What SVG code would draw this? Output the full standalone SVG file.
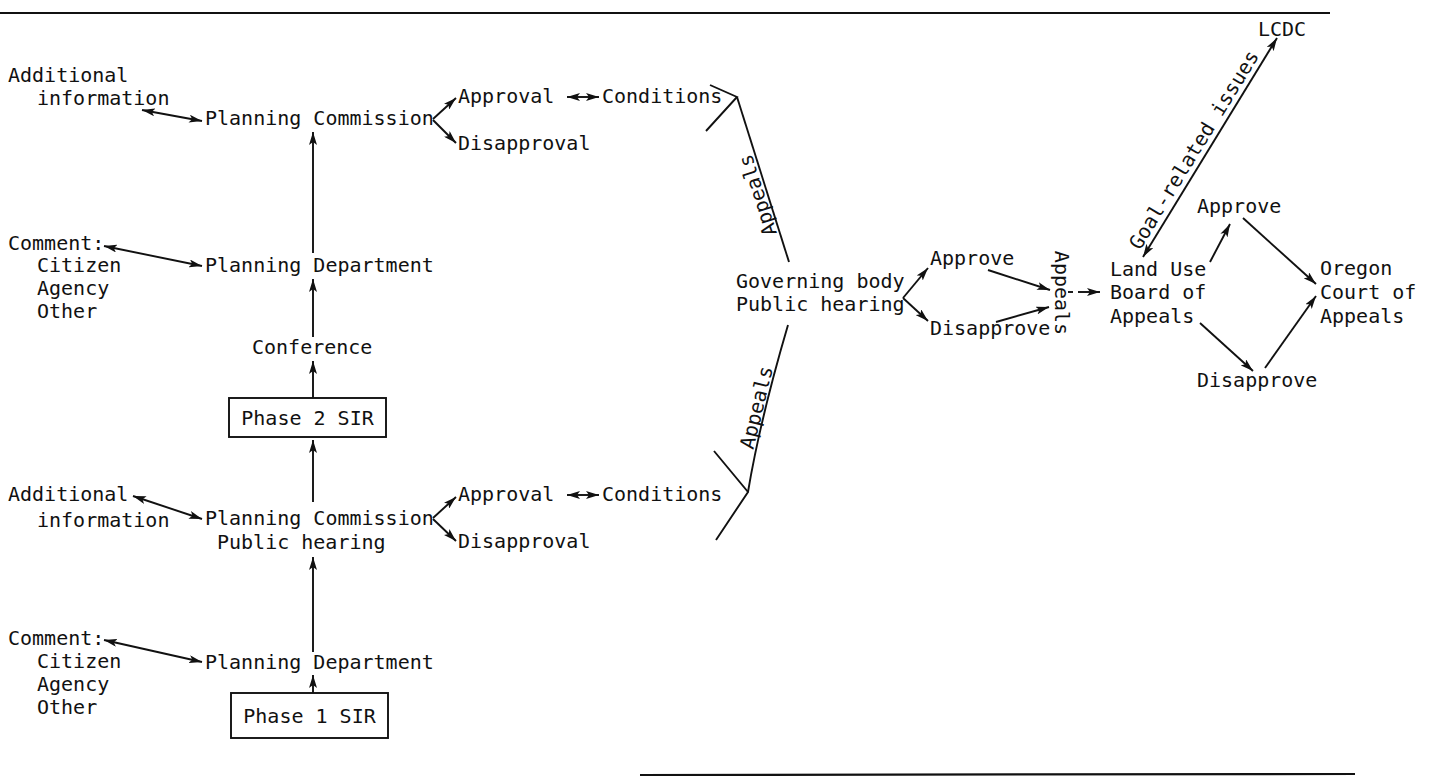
<svg xmlns="http://www.w3.org/2000/svg" width="1430" height="778" viewBox="0 0 1430 778">
<style>
text{font-family:"DejaVu Sans Mono","Liberation Mono",monospace;font-size:20px;fill:#111}
.c line,.c polyline,.c path{stroke:#111;stroke-width:1.9;fill:none}
.box{fill:none;stroke:#111;stroke-width:1.9}
.rule{stroke:#111;stroke-width:2.2}
</style>
<defs>
<marker id="ah" viewBox="0 0 13 8" refX="13" refY="4" markerWidth="13" markerHeight="8" markerUnits="userSpaceOnUse" orient="auto-start-reverse">
<path d="M0,0 L13,4 L0,8 L3,4 Z" fill="#111"/>
</marker>
</defs>
<line class="rule" x1="0" y1="13" x2="1330" y2="13"/>
<line class="rule" x1="640" y1="775" x2="1355" y2="774"/>

<g id="n_addinfo1"><text x="8" y="82">Additional</text><text x="37" y="105">information</text></g>
<g id="n_pc1"><text x="205" y="125">Planning Commission</text></g>
<g id="n_appr1"><text x="458" y="103">Approval</text></g>
<g id="n_disappr1"><text x="458" y="150">Disapproval</text></g>
<g id="n_cond1"><text x="602" y="103">Conditions</text></g>
<g id="n_comment1"><text x="8" y="250">Comment:</text><text x="37" y="272">Citizen</text><text x="37" y="295">Agency</text><text x="37" y="318">Other</text></g>
<g id="n_pd2"><text x="205" y="272">Planning Department</text></g>
<g id="n_conf"><text x="252" y="354">Conference</text></g>
<g id="n_phase2"><rect class="box" x="229" y="398" width="157" height="39"/><text x="307.5" y="425" text-anchor="middle">Phase 2 SIR</text></g>
<g id="n_addinfo2"><text x="8" y="501">Additional</text><text x="37" y="527">information</text></g>
<g id="n_pc2"><text x="205" y="525">Planning Commission</text><text x="217" y="549">Public hearing</text></g>
<g id="n_appr2"><text x="458" y="501">Approval</text></g>
<g id="n_disappr2"><text x="458" y="548">Disapproval</text></g>
<g id="n_cond2"><text x="602" y="501">Conditions</text></g>
<g id="n_comment2"><text x="8" y="645">Comment:</text><text x="37" y="668">Citizen</text><text x="37" y="691">Agency</text><text x="37" y="714">Other</text></g>
<g id="n_pd1"><text x="205" y="669">Planning Department</text></g>
<g id="n_phase1"><rect class="box" x="231" y="693" width="157" height="45"/><text x="309.5" y="723" text-anchor="middle">Phase 1 SIR</text></g>
<g id="n_gov"><text x="736" y="288">Governing body</text><text x="736" y="311">Public hearing</text></g>
<g id="n_approve_g"><text x="930" y="265">Approve</text></g>
<g id="n_disapprove_g"><text x="930" y="335">Disapprove</text></g>
<g id="n_luba"><text x="1110" y="276">Land Use</text><text x="1110" y="299">Board of</text><text x="1110" y="323">Appeals</text></g>
<g id="n_approve_l"><text x="1197" y="213">Approve</text></g>
<g id="n_disapprove_l"><text x="1197" y="387">Disapprove</text></g>
<g id="n_ocoa"><text x="1320" y="275">Oregon</text><text x="1320" y="299">Court of</text><text x="1320" y="323">Appeals</text></g>
<g id="n_lcdc"><text x="1258" y="36">LCDC</text></g>

<g id="connectors" class="c">
<line x1="142" y1="110" x2="202" y2="121" marker-start="url(#ah)" marker-end="url(#ah)"/>
<line x1="433" y1="119" x2="456" y2="98" marker-end="url(#ah)"/>
<line x1="433" y1="120" x2="456" y2="143" marker-end="url(#ah)"/>
<line x1="567" y1="97" x2="599" y2="97" marker-start="url(#ah)" marker-end="url(#ah)"/>
<line x1="313" y1="253" x2="313" y2="132" marker-end="url(#ah)"/>
<line x1="104" y1="246" x2="202" y2="266" marker-start="url(#ah)" marker-end="url(#ah)"/>
<line x1="313" y1="337" x2="313" y2="279" marker-end="url(#ah)"/>
<line x1="313" y1="398" x2="313" y2="361" marker-end="url(#ah)"/>
<line x1="313" y1="502" x2="313" y2="440" marker-end="url(#ah)"/>
<line x1="133" y1="496" x2="202" y2="519" marker-start="url(#ah)" marker-end="url(#ah)"/>
<line x1="433" y1="518" x2="456" y2="497" marker-end="url(#ah)"/>
<line x1="433" y1="519" x2="456" y2="541" marker-end="url(#ah)"/>
<line x1="567" y1="495" x2="599" y2="495" marker-start="url(#ah)" marker-end="url(#ah)"/>
<line x1="313" y1="652" x2="313" y2="557" marker-end="url(#ah)"/>
<line x1="104" y1="640" x2="202" y2="662" marker-start="url(#ah)" marker-end="url(#ah)"/>
<line x1="313" y1="693" x2="313" y2="675" marker-end="url(#ah)"/>
<polyline points="710,85 737,97 706,131"/>
<line x1="737" y1="97" x2="789" y2="262"/>
<polyline points="714,451 748,492 716,540"/>
<path d="M748,492 Q760,420 788,325"/>
<line x1="903" y1="298" x2="928" y2="268" marker-end="url(#ah)"/>
<line x1="903" y1="298" x2="928" y2="321" marker-end="url(#ah)"/>
<line x1="988" y1="270" x2="1050" y2="290" marker-end="url(#ah)"/>
<line x1="996" y1="322" x2="1049" y2="307" marker-end="url(#ah)"/>
<line x1="1068" y1="292" x2="1073" y2="292"/>
<line x1="1078" y1="292" x2="1100" y2="292" marker-end="url(#ah)"/>
<line x1="1143" y1="257" x2="1277" y2="38" marker-start="url(#ah)" marker-end="url(#ah)"/>
<line x1="1210" y1="262" x2="1230" y2="224" marker-end="url(#ah)"/>
<line x1="1243" y1="218" x2="1316" y2="284" marker-end="url(#ah)"/>
<line x1="1200" y1="323" x2="1253" y2="371" marker-end="url(#ah)"/>
<line x1="1265" y1="368" x2="1316" y2="296" marker-end="url(#ah)"/>
<text transform="translate(768,192) rotate(-107.7)" y="-4" text-anchor="middle">Appeals</text>
<text transform="translate(767,410) rotate(-76.5)" y="-4" text-anchor="middle">Appeals</text>
<text transform="translate(1062,293) rotate(90)" y="7" text-anchor="middle">Appeals</text>
<text transform="translate(1204,156) rotate(-58.5)" y="-5" text-anchor="middle">Goal-related issues</text>
</g>
</svg>
